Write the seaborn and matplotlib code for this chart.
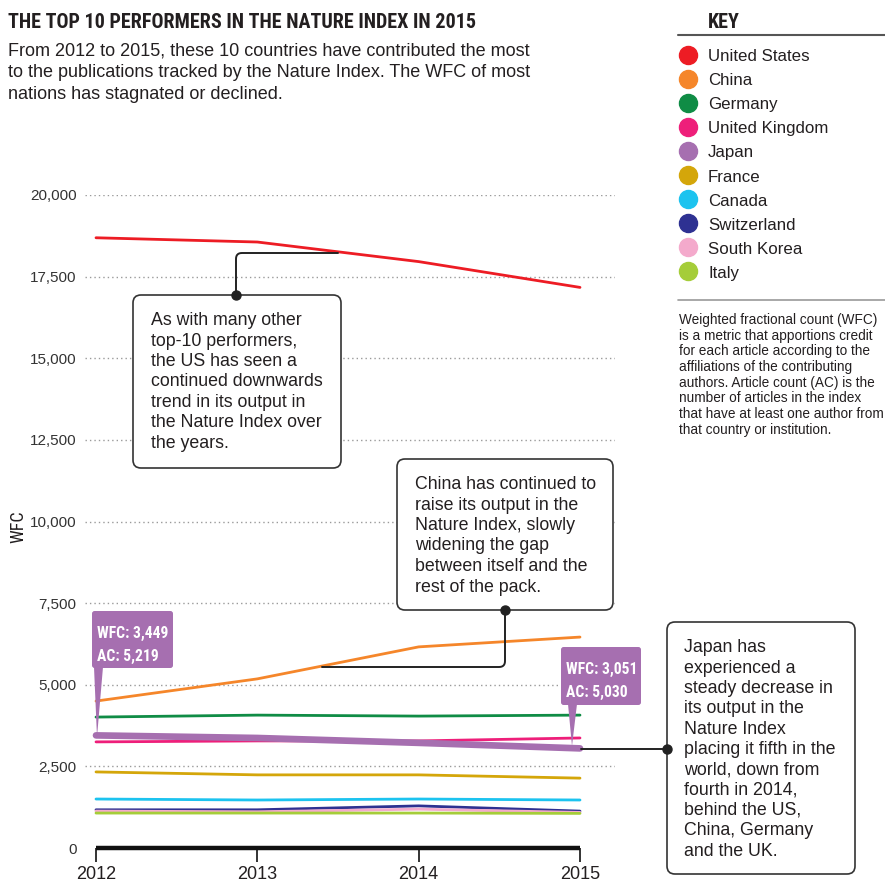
import numpy as np
import pandas as pd
import matplotlib
matplotlib.use("Agg")
import matplotlib.pyplot as plt
import matplotlib.colors as mcolors
import seaborn as sns
from matplotlib import font_manager as fm
from matplotlib.patches import FancyBboxPatch, Polygon
from matplotlib.lines import Line2D

# ---------------- data ----------------
years = [2012, 2013, 2014, 2015]
countries = ["United States", "China", "Germany", "United Kingdom", "Japan",
             "France", "Canada", "Switzerland", "South Korea", "Italy"]
us = [18690, 18560, 17960, 17170]
china = [4500, 5180, 6160, 6460]
germany = [4010, 4070, 4040, 4070]
uk = [3250, 3280, 3280, 3370]
japan = [3449, 3370, 3220, 3051]
france = [2330, 2240, 2240, 2140]
canada = [1500, 1470, 1500, 1470]
switzerland = [1170, 1170, 1290, 1130]
south_korea = [1130, 1110, 1190, 1090]
italy = [1070, 1070, 1070, 1060]
colors = ["#ed1c24", "#f5862a", "#0f8c45", "#ee1f7a", "#a66fb0",
          "#d4a60a", "#1cc3ef", "#2e3192", "#f4aacc", "#a5cd39"]
japan_ac = [5219, 5030]
yticks = list(range(0, 20001, 2500))

title = "THE TOP 10 PERFORMERS IN THE NATURE INDEX IN 2015"
subtitle = ["From 2012 to 2015, these 10 countries have contributed the most",
            "to the publications tracked by the Nature Index. The WFC of most",
            "nations has stagnated or declined."]
desc = ["Weighted fractional count (WFC)",
        "is a metric that apportions credit",
        "for each article according to the",
        "affiliations of the contributing",
        "authors. Article count (AC) is the",
        "number of articles in the index",
        "that have at least one author from",
        "that country or institution."]
note_us = ["As with many other", "top-10 performers,", "the US has seen a",
           "continued downwards", "trend in its output in",
           "the Nature Index over", "the years."]
note_cn = ["China has continued to", "raise its output in the",
           "Nature Index, slowly", "widening the gap",
           "between itself and the", "rest of the pack."]
note_jp = ["Japan has", "experienced a", "steady decrease in",
           "its output in the", "Nature Index", "placing it fifth in the",
           "world, down from", "fourth in 2014,", "behind the US,",
           "China, Germany", "and the UK."]

# ---------------- style ----------------
sns.set_theme(style="white")
plt.rcParams["font.family"] = ["Liberation Sans", "DejaVu Sans"]
TXT = "#231f20"

avail = {f.name for f in fm.fontManager.ttflist}
cond_fam = None
for cand in ["Liberation Sans Narrow", "Roboto Condensed", "Open Sans Condensed", "DejaVu Sans"]:
    if cand in avail:
        cond_fam = cand
        break
cond_bold = fm.FontProperties(family=cond_fam, weight="bold", stretch="condensed")
cond_reg = fm.FontProperties(family=cond_fam, weight="normal", stretch="condensed")

W, H = 885, 883
fig = plt.figure(figsize=(W / 100, H / 100), dpi=100)
fig.patch.set_facecolor("white")
renderer = fig.canvas.get_renderer()


def P(x, y):
    return (x / W, 1 - y / H)


def ftext(x, y, s, **kw):
    return fig.text(x / W, 1 - y / H, s, **kw)


def fit(t, target, dim="width"):
    bb = t.get_window_extent(renderer)
    cur = bb.width if dim == "width" else bb.height
    t.set_fontsize(t.get_fontsize() * target / cur)
    return t.get_fontsize()


# ---------------- axes ----------------
x_left_px, x_right_px = 85, 615
px_per_year = (580 - 96) / 3
ax = fig.add_axes([x_left_px / W, 1 - 848 / H, (x_right_px - x_left_px) / W, (848 - 195) / H])
ax.set_xlim(2012 - 11 / px_per_year, 2015 + 35 / px_per_year)
ax.set_ylim(0, 20000)
for s in ax.spines.values():
    s.set_visible(False)
ax.patch.set_alpha(0)

for yv in yticks[1:]:
    ax.axhline(yv, color="#9a9a9a", lw=1.0, ls=(0, (1, 2.2)), zorder=0.5)

df = pd.DataFrame({
    "Year": years * len(countries),
    "WFC": us + china + germany + uk + japan + france + canada + switzerland + south_korea + italy,
    "Country": np.repeat(countries, len(years)),
})
sns.lineplot(data=df, x="Year", y="WFC", hue="Country", hue_order=countries,
             palette=colors, linewidth=2.0, legend=False, ax=ax, clip_on=False)
jp_hex = mcolors.to_hex(colors[countries.index("Japan")])
for ln in ax.lines:
    if mcolors.to_hex(ln.get_color()) == jp_hex:
        ln.set_linewidth(4.8)
        ln.set_solid_capstyle("round")
        ln.set_zorder(3)

# baseline at zero
ax.plot([min(years), max(years)], [0, 0], color="#111111", lw=3.2, solid_capstyle="butt", zorder=4, clip_on=False)

ax.set_xticks(years)
ax.set_xticklabels([str(y) for y in years])
ax.set_yticks(yticks)
ax.set_yticklabels([f"{v:,}" for v in yticks])
ax.tick_params(axis="x", length=10, width=1.4, color="#333333", pad=3, labelsize=13, labelcolor=TXT, direction="out", bottom=True)
ax.tick_params(axis="y", length=0, pad=6, labelsize=11, labelcolor="#333333")
ax.set_xlabel("")
ax.set_ylabel("")

# y label
ftext(18, 527, "WFC", fontproperties=cond_reg, rotation=90, ha="center", va="center", color=TXT, fontsize=13)

# ---------------- titles ----------------
t = ftext(8, 27.5, title, fontproperties=cond_bold, fontsize=16, color=TXT, va="baseline")
fit(t, 472)
sub_ts = [ftext(8, 55.5 + 21.6 * i, line, fontsize=12, color=TXT, va="baseline") for i, line in enumerate(subtitle)]
fs = fit(sub_ts[0], 524)
for s_ in sub_ts[1:]:
    s_.set_fontsize(fs)

# ---------------- key ----------------
ftext(708, 27.5, "KEY", fontproperties=cond_bold, fontsize=14.5, color=TXT, va="baseline")
fig.add_artist(Line2D([678 / W, 1.0], [1 - 34.5 / H] * 2, transform=fig.transFigure, color="#555555", lw=1.5))
fig.add_artist(Line2D([678 / W, 1.0], [1 - 299.5 / H] * 2, transform=fig.transFigure, color="#999999", lw=1.2))
for i, (c, name) in enumerate(zip(colors, countries)):
    cy = 54.5 + 24.1 * i
    fig.add_artist(Line2D([688 / W], [1 - cy / H], transform=fig.transFigure, marker="o",
                          ms=13, color=c, mec=c, ls="none"))
    ftext(708, cy + 6.5, name, fontsize=12.2, color=TXT, va="baseline")

d_ts = [ftext(679, 324 + 15.7 * i, line, fontsize=9.5, color=TXT, va="baseline") for i, line in enumerate(desc)]
fs = fit(d_ts[6], 203)
for s_ in d_ts:
    s_.set_fontsize(fs)


# ---------------- annotation boxes ----------------
def rbox(x0, y0, x1, y1, fc="white", ec="#333333", lw=1.2, r=0.009, z=5):
    b = FancyBboxPatch((x0 / W, 1 - y1 / H), (x1 - x0) / W, (y1 - y0) / H,
                       boxstyle=f"round,pad=0,rounding_size={r}", transform=fig.transFigure,
                       fc=fc, ec=ec, lw=lw, zorder=z)
    fig.add_artist(b)
    return b


def elbow(pts, r=6, n=8):
    """polyline in pixel coords with rounded interior corners"""
    out = [pts[0]]
    for i in range(1, len(pts) - 1):
        p0, p1, p2 = map(np.array, (pts[i - 1], pts[i], pts[i + 1]))
        a = p1 + (p0 - p1) / np.linalg.norm(p0 - p1) * r
        b = p1 + (p2 - p1) / np.linalg.norm(p2 - p1) * r
        for tt in np.linspace(0, 1, n):
            q = (1 - tt) ** 2 * a + 2 * (1 - tt) * tt * p1 + tt ** 2 * b
            out.append(tuple(q))
    out.append(pts[-1])
    xs = [p[0] / W for p in out]
    ys = [1 - p[1] / H for p in out]
    fig.add_artist(Line2D(xs, ys, transform=fig.transFigure, color="#222222", lw=1.4, zorder=4.5))


def dot(x, y):
    fig.add_artist(Line2D([x / W], [1 - y / H], transform=fig.transFigure, marker="o", ms=6.5,
                          color="#222222", ls="none", zorder=6))


# US note
elbow([(236, 295), (236, 253), (338, 253)])
rbox(133, 295, 341, 468)
dot(236, 295)
us_ts = [ftext(151, 325 + 20.5 * i, line, fontsize=12.5, color=TXT, va="baseline", zorder=7) for i, line in enumerate(note_us)]
fs_note = fit(us_ts[3], 172)
for s_ in us_ts:
    s_.set_fontsize(fs_note)

# China note
elbow([(505, 610), (505, 667), (322, 667)])
rbox(397, 459, 613, 610)
dot(505, 610)
for i, line in enumerate(note_cn):
    ftext(415, 489 + 20.5 * i, line, fontsize=fs_note, color=TXT, va="baseline", zorder=7)

# Japan note
elbow([(581, 749), (667, 749)])
rbox(667, 622, 855, 874)
dot(667, 749)
for i, line in enumerate(note_jp):
    ftext(684, 652.5 + 20.3 * i, line, fontsize=fs_note, color=TXT, va="baseline", zorder=7)

# Japan purple labels
jp_col = colors[countries.index("Japan")]


def purple_label(x0, y0, x1, y1, tip, wedge, wfc, ac):
    fig.add_artist(Polygon([P(wedge[0], y1 - 1), P(wedge[1], y1 - 1), P(*tip)], closed=True,
                           transform=fig.transFigure, fc=jp_col, ec="none", zorder=5))
    rbox(x0, y0, x1, y1, fc=jp_col, ec="none", lw=0, r=0.003, z=5)
    t1 = ftext(x0 + 5, y0 + 27, f"WFC: {wfc:,}", fontproperties=cond_bold, fontsize=12,
               color="white", va="baseline", zorder=7)
    fsz = fit(t1, 71)
    ftext(x0 + 5, y0 + 49.5, f"AC: {ac:,}", fontproperties=cond_bold, fontsize=fsz,
          color="white", va="baseline", zorder=7)


purple_label(92, 611, 173, 668, (97, 737), (94, 103), japan[0], japan_ac[0])
purple_label(561, 647, 641, 705, (572, 746), (568, 577), japan[-1], japan_ac[-1])

fig.savefig("out.png", dpi=100, facecolor="white")
